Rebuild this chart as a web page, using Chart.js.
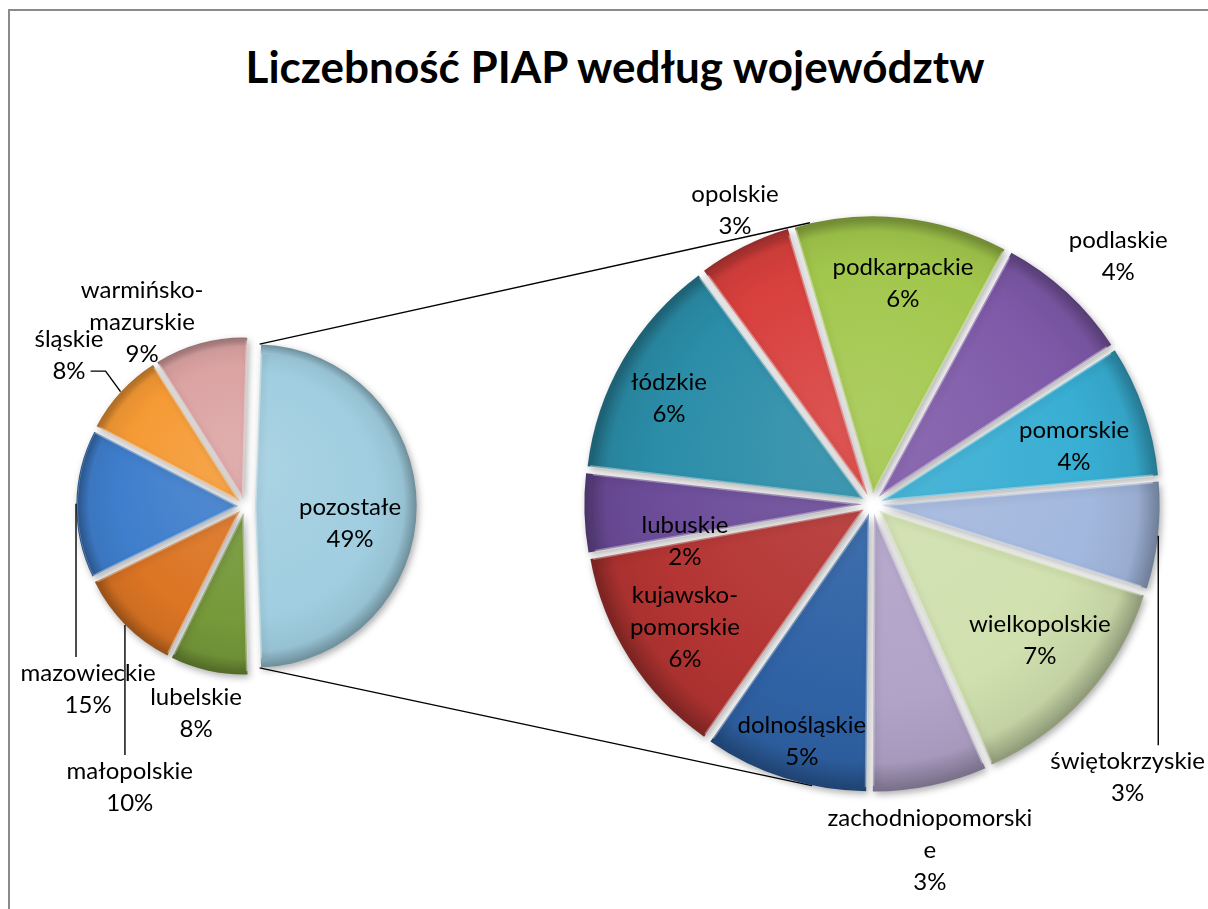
<!DOCTYPE html>
<html><head><meta charset="utf-8">
<script src="https://cdn.jsdelivr.net/npm/chart.js@4.4.1/dist/chart.umd.min.js"></script>
<style>
html,body{margin:0;padding:0;background:#fff;}
#wrap{position:relative;width:1208px;height:909px;overflow:hidden;background:#fff;}
#frame{position:absolute;left:8px;top:9px;width:1400px;height:1100px;border-left:2px solid #8a8a8a;border-top:2px solid #8a8a8a;}
#title{position:absolute;left:0;width:1230px;top:42px;text-align:center;font:bold 44px Lato, 'Open Sans', sans-serif;color:#000;line-height:48px;white-space:nowrap;}
canvas{position:absolute;left:0;top:0;}
</style></head><body>
<div id="wrap"><div id="frame"></div><div id="title">Liczebność PIAP według województw</div>
<canvas id="c1" width="1208" height="909"></canvas><canvas id="c2" width="1208" height="909"></canvas></div>
<script>
// ---------- data ----------
const otherLabel = 'pozostałe';
const leftCategories = ['lubelskie','małopolskie','mazowieckie','śląskie','warmińsko-mazurskie'];
const leftValues = [7.8, 10.4, 14.8, 8.4, 9.4];
const rightCategories = ['opolskie','podkarpackie','podlaskie','pomorskie','świętokrzyskie','wielkopolskie','zachodniopomorskie','dolnośląskie','kujawsko-pomorskie','lubuskie','łódzkie'];
const rightValues = [2.7, 6.1, 3.9, 3.8, 3.1, 6.6, 3.3, 4.7, 6.1, 2.3, 6.4];

// ---------- styles ----------
const leftColors = ['#A0CEE0','#76993A','#DC7524','#3F7ECC','#F59A35','#DCA3A3'];
const rightColors = ['#D8403D','#A2C74C','#7E59A8','#38AED3','#A3B8DE','#D0E0AE','#B1A3C8','#2F62A5','#B43533','#6C4C99','#2B8DA8'];
const leftExplode = [10,7,7,7,7,7];
const rightExplode = 10;
const LEFT_R = 162, RIGHT_R = 278;
const RIGHT_ROTATION = -36.3;
const LABEL_FONT = '24px Lato, "Open Sans", sans-serif';
const LINE_H = 32, WRAP_W = 212;
// label placement: r = fraction of radius, a = clock angle (deg)
const leftLabelLayout = [
  {r:0.657,a:99.2},{r:1.313,a:193.3},{r:1.874,a:202.3,leader:true},
  {r:1.488,a:220.6,leader:true},{r:1.431,a:310.6,leader:true},{r:1.302,a:330.8}];
const rightLabelLayout = [
  {r:1.166,a:-25},{r:0.80,a:8},{r:1.257,a:44.8},{r:0.756,a:74},
  {r:1.346,a:136.9,leader:true},{r:0.777,a:129},{r:1.262,a:170.5},
  {r:0.889,a:196.5},{r:0.805,a:236.7},{r:0.686,a:258.8},{r:0.824,a:297.6}];

// ---------- derived ----------
const otherValue = rightValues.reduce((a,b)=>a+b,0);
const leftData = [otherValue, ...leftValues];
const leftNames = [otherLabel, ...leftCategories];
const GRAND = leftData.reduce((a,b)=>a+b,0);
const leftRotation = 90 - otherValue / GRAND * 180;
const pct = v => Math.round(v / GRAND * 100) + '%';
const OFFSET_SCALE = 4; // Chart.js v4 arc draws offset/4

function shade(hex, f){
  const n = parseInt(hex.slice(1),16); let r=n>>16, g=(n>>8)&255, b=n&255;
  if (f>=0){ r+=(255-r)*f; g+=(255-g)*f; b+=(255-b)*f; } else { r*=1+f; g*=1+f; b*=1+f; }
  return `rgb(${r|0},${g|0},${b|0})`;
}
function sliceFill(colors, R){
  return (c) => {
    const chart = c.chart, area = chart.chartArea, base = colors[c.dataIndex];
    if (!area) return base;
    const x=(area.left+area.right)/2, y=(area.top+area.bottom)/2;
    const g = chart.ctx.createRadialGradient(x,y-R*0.3,0,x,y,R);
    g.addColorStop(0, shade(base,0.12));
    g.addColorStop(0.75, base);
    g.addColorStop(0.92, shade(base,-0.06));
    g.addColorStop(1, shade(base,-0.32));
    return g;
  };
}
function wrapName(ctx, name, maxW){
  const parts = name.split(/(?<=-)/), lines=[];
  parts.forEach(p => {
    if (ctx.measureText(p).width <= maxW){ lines.push(p); return; }
    let cur='';
    for (const ch of p){
      if (cur && ctx.measureText(cur+ch).width > maxW){ lines.push(cur); cur=ch; } else cur+=ch;
    }
    if (cur) lines.push(cur);
  });
  return lines;
}
const radiusFix = {
  id:'radiusFix',
  beforeDatasetDraw(chart, args){
    const meta = args.meta, base = meta.controller.outerRadius;
    meta.data.forEach(arc => {
      const t = (arc.options.offset||0)/OFFSET_SCALE;
      const fix = 1 - Math.sin(Math.min(Math.PI, arc.circumference||0));
      arc.outerRadius = base - t*fix;
    });
  }
};
const shadow = {
  id:'shadow',
  beforeDatasetsDraw(chart){ const c=chart.ctx; c.save(); c.shadowColor='rgba(0,0,0,0.32)'; c.shadowBlur=7; c.shadowOffsetX=2; c.shadowOffsetY=3; },
  afterDatasetsDraw(chart){ chart.ctx.restore(); }
};
function labelPlugin(names, values, layout){
  return { id:'sliceLabels', afterDatasetsDraw(chart){
    const ctx = chart.ctx, meta = chart.getDatasetMeta(0), R = meta.controller.outerRadius;
    ctx.save(); ctx.font = LABEL_FONT; ctx.fillStyle='#000'; ctx.textAlign='center'; ctx.textBaseline='middle';
    ctx.strokeStyle='#000'; ctx.lineWidth=1.4;
    meta.data.forEach((arc,i) => {
      const L = layout[i], a = L.a*Math.PI/180;
      const cx = arc.x + L.r*R*Math.sin(a), cy = arc.y - L.r*R*Math.cos(a);
      const lines = [...wrapName(ctx, names[i], WRAP_W), pct(values[i])];
      const h = lines.length*LINE_H, top = cy - h/2, bottom = top + h;
      const widths = lines.map(s => ctx.measureText(s).width);
      lines.forEach((s,k) => ctx.fillText(s, cx, top + LINE_H*(k+0.5)));
      if (L.leader){
        const mid = (arc.startAngle+arc.endAngle)/2, d = (arc.options.offset||0)/OFFSET_SCALE;
        const px = arc.x + (R+d)*Math.cos(mid), py = arc.y + (R+d)*Math.sin(mid);
        const maxW = Math.max(...widths), left = cx-maxW/2, right = cx+maxW/2;
        ctx.beginPath();
        if (px >= left && px <= right){
          ctx.moveTo(px, py); ctx.lineTo(px, py < top ? top : bottom);
        } else {
          const sy = Math.min(Math.max(py, top+LINE_H/2), bottom-LINE_H/2);
          const k = Math.min(lines.length-1, Math.max(0, Math.floor((sy-top)/LINE_H)));
          const dir = px > right ? 1 : -1;
          const sx = cx + dir*(widths[k]/2 + 5);
          ctx.moveTo(sx, sy); ctx.lineTo(sx + dir*15, sy); ctx.lineTo(px, py);
        }
        ctx.stroke();
      }
    });
    ctx.restore();
  }};
}

function build(){
  const leftChart = new Chart(document.getElementById('c1'), {
    type:'pie',
    data:{ labels:leftNames, datasets:[{ data:leftData,
      backgroundColor:sliceFill(leftColors, LEFT_R),
      borderColor:'rgba(255,255,255,0.35)', borderWidth:1.5, borderAlign:'inner',
      offset:leftExplode.map(v=>v*OFFSET_SCALE), hoverOffset:0 }]},
    options:{ responsive:false, animation:false, rotation:leftRotation, radius:LEFT_R,
      layout:{padding:{left:45, top:306, right:763, bottom:203}},
      plugins:{legend:{display:false}, tooltip:{enabled:false}}, events:[] },
    plugins:[radiusFix, shadow, labelPlugin(leftNames, leftData, leftLabelLayout)]
  });
  const connectors = {
    id:'connectors',
    beforeDatasetsDraw(chart){
      const lm = leftChart.getDatasetMeta(0), other = lm.data[0], Rl = lm.controller.outerRadius;
      const dl = (other.options.offset||0)/OFFSET_SCALE, mid = (other.startAngle+other.endAngle)/2;
      const ox = other.x + dl*Math.cos(mid), oy = other.y + dl*Math.sin(mid);
      const rm = chart.getDatasetMeta(0), c0 = rm.data[0];
      const X = c0.x, Y = c0.y, Rc = rm.controller.outerRadius + rightExplode;
      const ctx = chart.ctx; ctx.save(); ctx.strokeStyle='#000'; ctx.lineWidth=1.4;
      [[other.startAngle,-1],[other.endAngle,1]].forEach(([ang,s]) => {
        const Px = ox + Rl*Math.cos(ang), Py = oy + Rl*Math.sin(ang);
        const D = Math.hypot(X-Px, Y-Py), phi = Math.atan2(Y-Py, X-Px), al = Math.asin(Rc/D);
        const Lt = Math.sqrt(D*D-Rc*Rc), th = phi + s*al;
        ctx.beginPath(); ctx.moveTo(Px,Py); ctx.lineTo(Px+Lt*Math.cos(th), Py+Lt*Math.sin(th)); ctx.stroke();
      });
      ctx.restore();
    }
  };
  new Chart(document.getElementById('c2'), {
    type:'pie',
    data:{ labels:rightCategories, datasets:[{ data:rightValues,
      backgroundColor:sliceFill(rightColors, RIGHT_R),
      borderColor:'rgba(255,255,255,0.35)', borderWidth:1.5, borderAlign:'inner',
      offset:rightExplode*OFFSET_SCALE, hoverOffset:0 }]},
    options:{ responsive:false, animation:false, rotation:RIGHT_ROTATION, radius:RIGHT_R,
      layout:{padding:{left:572, top:204, right:36, bottom:105}},
      plugins:{legend:{display:false}, tooltip:{enabled:false}}, events:[] },
    plugins:[connectors, radiusFix, shadow, labelPlugin(rightCategories, rightValues, rightLabelLayout)]
  });
}
Promise.all([document.fonts.load('24px Lato'), document.fonts.load('bold 44px Lato')]).then(build, build);
</script>
</body></html>
